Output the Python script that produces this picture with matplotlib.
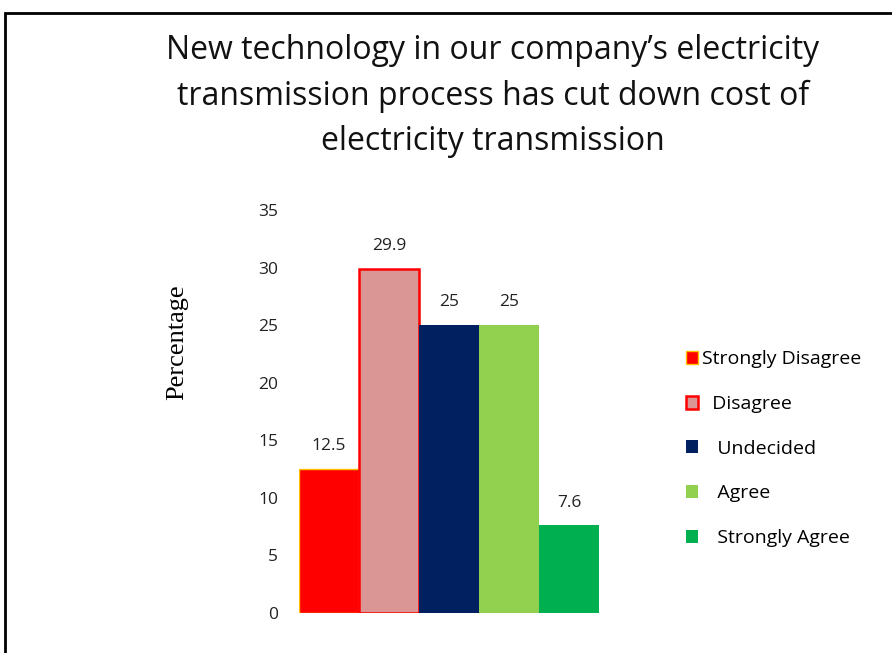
import matplotlib
matplotlib.use("Agg")
import matplotlib.pyplot as plt
from matplotlib.patches import Rectangle, Patch

categories = ["Strongly Disagree", "Disagree", "Undecided", "Agree", "Strongly Agree"]
values = [12.5, 29.9, 25, 25, 7.6]
value_labels = ["12.5", "29.9", "25", "25", "7.6"]
legend_labels = ["Strongly Disagree", "  Disagree", "   Undecided", "   Agree", "   Strongly Agree"]
colors = ["#FF0000", "#D99694", "#002060", "#92D050", "#00B050"]
edges = ["#FFC000", "#FF0000", "#002060", "#92D050", "#00B050"]
edge_w = [1.0, 1.8, 0, 0, 0]
yticks = [0, 5, 10, 15, 20, 25, 30, 35]
title = "New technology in our company\u2019s electricity\ntransmission process has cut down cost of\nelectricity transmission"

W, H = 892, 653
fig = plt.figure(figsize=(W / 100, H / 100), dpi=100)
fig.patch.set_facecolor("white")

# outer frame
fig.patches.append(Rectangle((5 / W, -0.2), 1.5, 1.2 - 13 / H,
                             transform=fig.transFigure, fill=False,
                             edgecolor="black", linewidth=2))

ax = fig.add_axes([299 / W, (H - 613) / H, 300 / W, 403 / H])
x = list(range(len(values)))
for i in x:
    ax.bar(i, values[i], width=1.0, color=colors[i], edgecolor=edges[i],
           linewidth=edge_w[i], zorder=3)
    ax.text(i, values[i] + 1.3, value_labels[i], ha="center", va="bottom",
            fontsize=12.5, family="Open Sans", color="#222222")

ax.set_xlim(-0.5, 4.5)
ax.set_ylim(0, 35)
ax.set_yticks(yticks)
ax.set_yticklabels([str(t) for t in yticks], family="Open Sans", fontsize=12.5, color="#222222")
ax.tick_params(axis="y", length=0, pad=15)
ax.set_xticks([])
for s in ax.spines.values():
    s.set_visible(False)

fig.text(177 / W, 1 - 342 / H, "Percentage", rotation=90, ha="center", va="center",
         family="Liberation Serif", fontsize=19)

fig.text(493 / W, 1 - 96 / H, title, ha="center", va="center",
         family="Open Sans", fontsize=23, linespacing=1.5, color="#111111")

handles = [Patch(facecolor=colors[i], edgecolor=edges[i], linewidth=edge_w[i])
           for i in x]
leg = fig.legend(handles, legend_labels, loc="upper left",
                 bbox_to_anchor=(668 / W, 1 - 333 / H), frameon=False,
                 prop={"family": "Open Sans", "size": 14},
                 handlelength=0.65, handleheight=0.65, handletextpad=0.2,
                 labelspacing=1.37)

fig.savefig("out.png", dpi=100)
